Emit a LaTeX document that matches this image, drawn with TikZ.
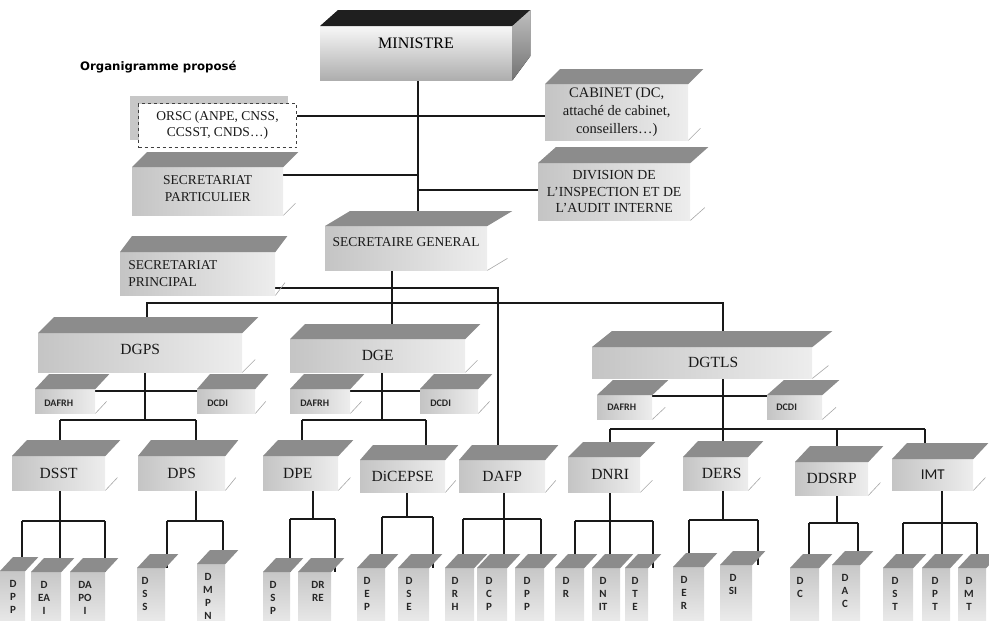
\documentclass[tikz,border=0pt]{standalone}
\usepackage{fontspec}
\setmainfont{Liberation Serif}
\newfontfamily\carl{Carlito}
\newfontfamily\dejab{DejaVu Sans}
\usetikzlibrary{backgrounds}
\tikzset{
  conn/.style={line width=2.2pt, draw=black!90},
  front/.style={inner sep=0pt, left color=black!23, right color=black!7},
  topf/.style={fill=black!45},
  accent/.style={draw=black!35, line width=0.6pt},
  leaff/.style={inner sep=0pt, top color=black!22, bottom color=black!4},
  leaft/.style={font=\carl\bfseries\fontsize{11}{13}\selectfont, align=center, inner sep=0pt, text=black!85},
  smallt/.style={font=\carl\bfseries\fontsize{10}{12}\selectfont, inner sep=0pt, anchor=west, text=black!85},
  serA/.style={font=\fontsize{13.5}{16.8}\selectfont, align=center, inner sep=0pt, text=black!90},
  serB/.style={font=\fontsize{15.5}{18}\selectfont, align=center, inner sep=0pt, text=black!90},
}
% name, x, y, w, h, dx, dy, text style, text
\newcommand{\tcube}[9]{%
  \node[front,minimum width=#4pt,minimum height=#5pt,anchor=north west] (#1) at (#2,#3) {};
  \fill[topf] (#1.north west) -- ++(#6,-#7) -- ([shift={(#6,-#7)}]#1.north east) -- (#1.north east) -- cycle;
  \draw[accent] (#1.south east) -- ++(#6*0.8,-#7*0.8);
  \node[#8] (#1-t) at (#1.center) {#9};
}
% name, x, y, w, dx, text x, text
\newcommand{\tleaf}[7]{%
  \node[leaff,minimum width=#4pt,minimum height=70pt,anchor=north west] (#1) at (#2,#3) {};
  \fill[topf] (#1.north west) -- ++(#5,-14) -- ([shift={(#5,-14)}]#1.north east) -- (#1.north east) -- cycle;
  \node[leaft,anchor=north,yshift=-9.5pt] (#1-t) at (#6,#3) {#7};
}
\begin{document}
\begin{tikzpicture}[x=1pt,y=-1pt]
\useasboundingbox (0,0) rectangle (989,621);
\clip (0,0) rectangle (989,621);

\node[font=\dejab\bfseries\fontsize{11.7}{14}\selectfont, anchor=west, inner sep=0pt] (title) at (80,67) {Organigramme proposé};

% MINISTRE
\node[inner sep=0pt, minimum width=192pt, minimum height=54pt, anchor=north west, top color=black!3, bottom color=black!32] (min) at (320,26) {};
\fill[black!88] (min.north west) -- ++(18,-16) -- ([shift={(18,-16)}]min.north east) -- (min.north east) -- cycle;
\fill[top color=black!25, bottom color=black!55] (min.north east) -- ++(18,-16) -- ++(0,46) -- (min.south east) -- cycle;
\node[font=\fontsize{16}{19}\selectfont, inner sep=0pt] (min-t) at (416,43) {MINISTRE};

% ORSC
\node[fill=black!22, minimum width=158pt, minimum height=44pt, anchor=north west, inner sep=0pt] (orsc-bg) at (130,96) {};
\node[draw=black!75, dashed, line width=1pt, fill=white, minimum width=158pt, minimum height=44pt, anchor=north west, inner sep=0pt] (orsc) at (138,103) {};
\node[serA, font=\fontsize{13.5}{15.5}\selectfont] (orsc-t) at (orsc.center) {ORSC (ANPE, CNSS,\\CCSST, CNDS…)};

\tcube{cab}{545}{84}{143}{56}{15}{15}{serA, font=\fontsize{14.5}{18}\selectfont}{CABINET (DC,\\attaché de cabinet,\\conseillers…)}
\tcube{div}{538}{163}{152}{57}{18}{16}{serA, font=\fontsize{13.8}{16.5}\selectfont}{DIVISION DE\\L’INSPECTION ET DE\\L’AUDIT INTERNE}
\tcube{sp}{132}{167}{151}{48}{15}{15}{serA, yshift=2.5pt}{SECRETARIAT\\PARTICULIER}
\tcube{sg}{325}{226}{162}{44}{25}{15}{serA, yshift=6pt}{SECRETAIRE GENERAL}
\tcube{spr}{120}{252}{155}{43}{12}{16}{serA, align=left, anchor=west, xshift=-69.5pt}{SECRETARIAT\\PRINCIPAL}

% level 1
\tcube{dgps}{38}{333}{204}{39}{16}{16}{serB, yshift=3pt}{DGPS}
\tcube{dge}{290}{339}{175}{33}{15}{15}{serB}{DGE}
\tcube{dgtls}{592}{347}{220}{31}{20}{16}{serB, xshift=11pt}{DGTLS}

\tcube{dafrhA}{35}{389}{60}{24}{14}{15}{smallt, xshift=-21pt, yshift=-2pt}{DAFRH}
\tcube{dcdiA}{197}{389}{58}{24}{13}{15}{smallt, xshift=-19pt, yshift=-2pt}{DCDI}
\tcube{dafrhB}{290}{389}{60}{24}{14}{15}{smallt, xshift=-20pt, yshift=-2pt}{DAFRH}
\tcube{dcdiB}{420}{389}{58}{24}{14}{15}{smallt, xshift=-19pt, yshift=-2pt}{DCDI}
\tcube{dafrhC}{597}{395}{55}{24}{16}{15}{smallt, xshift=-17.5pt}{DAFRH}
\tcube{dcdiC}{767}{395}{55}{24}{17}{15}{smallt, xshift=-18.5pt}{DCDI}

% level 2
\tcube{dsst}{12}{456}{93}{34}{15}{16}{serB}{DSST}
\tcube{dps}{138}{456}{87}{34}{13}{16}{serB}{DPS}
\tcube{dpe}{263}{456}{75}{34}{15}{16}{serB, xshift=-3pt}{DPE}
\tcube{dicepse}{360}{460}{85}{32}{13}{15}{serB}{DiCEPSE}
\tcube{dafp}{459}{460}{86}{32}{13}{15}{serB}{DAFP}
\tcube{dnri}{568}{457}{72}{35}{15}{15}{serB, xshift=6pt}{DNRI}
\tcube{ders}{683}{457}{65}{33}{15}{16}{serB, xshift=6pt}{DERS}
\tcube{ddsrp}{795}{462}{73}{33}{15}{16}{serB}{DDSRP}
\tcube{imt}{892}{459}{81}{31}{15}{16}{serB, font=\carl\fontsize{15}{18}\selectfont}{IMT}

% leaves
\tleaf{la}{0}{571}{25}{13}{13}{D\\P\\P}
\tleaf{lb}{31}{572}{30}{13}{44}{D\\EA\\I}
\tleaf{lc}{70}{572}{35}{13}{85}{DA\\PO\\I}
\tleaf{ld}{137}{568}{28}{13}{145}{D\\S\\S}
\tleaf{le}{197}{564}{28}{13}{208}{D\\M\\P\\N}
\tleaf{lf}{263}{572}{27}{13}{273}{D\\S\\P}
\tleaf{lg}{298}{572}{33}{13}{318}{DR\\RE}
\tleaf{lh}{357}{568}{28}{13}{367}{D\\E\\P}
\tleaf{li}{398}{568}{31}{13}{409}{D\\S\\E}
\tleaf{lj}{445}{568}{29}{13}{455}{D\\R\\H}
\tleaf{lk}{477}{568}{30}{13}{489}{D\\C\\P}
\tleaf{ll}{515}{568}{29}{13}{527}{D\\P\\P}
\tleaf{lm}{555}{568}{29}{13}{566}{D\\R}
\tleaf{ln}{592}{568}{28}{13}{603}{D\\N\\IT}
\tleaf{lo}{625}{568}{23}{13}{635}{D\\T\\E}
\tleaf{lp}{673}{567}{31}{13}{684}{D\\E\\R}
\tleaf{lq}{720}{565}{32}{13}{733}{D\\SI}
\tleaf{lr}{790}{568}{29}{13}{800}{D\\C}
\tleaf{ls}{832}{565}{28}{13}{845}{D\\A\\C}
\tleaf{lt}{883}{568}{30}{13}{895}{D\\S\\T}
\tleaf{lu}{922}{568}{28}{13}{935}{D\\P\\T}
\tleaf{lv}{958}{568}{28}{13}{969}{D\\M\\T}

\begin{scope}[on background layer]
% top level
\coordinate (jm1) at (418,116);
\coordinate (jm2) at (418,175);
\coordinate (jm3) at (418,190);
\draw[conn] (min.south -| jm1) -- (sg.north -| jm1);
\draw[conn] (orsc.east |- jm1) -- (cab.west |- jm1);
\draw[conn] (sp.east |- jm2) -- (jm2);
\draw[conn] (jm3) -- (div.west |- jm3);
\coordinate (jsg) at (392,303);
\draw[conn] (sg.south -| jsg) -- (dge.north -| jsg);
\coordinate (jbl) at (147,303);
\coordinate (jbr) at (723,303);
\draw[conn] (dgps.north -| jbl) -- (jbl) -- (jbr) -- (dgtls.north -| jbr);
\coordinate (jsp) at (498,288);
\draw[conn] (spr.east |- jsp) -- (jsp) -- (dafp.north -| jsp);

% DGPS
\coordinate (ga) at (145,391);
\coordinate (gl) at (60,420);
\coordinate (gr) at (196,420);
\draw[conn] (dgps.south -| ga) -- (gl -| ga);
\draw[conn] (dafrhA.east |- ga) -- (dcdiA.west |- ga);
\draw[conn] (gl) -- (gr);
\draw[conn] (gl) -- (dsst.north -| gl);
\draw[conn] (gr) -- (dps.north -| gr);
% DGE
\coordinate (ea) at (382,391);
\coordinate (el) at (302,420);
\coordinate (er) at (426,420);
\draw[conn] (dge.south -| ea) -- (el -| ea);
\draw[conn] (dafrhB.east |- ea) -- (dcdiB.west |- ea);
\draw[conn] (el) -- (er);
\draw[conn] (el) -- (dpe.north -| el);
\draw[conn] (er) -- (dicepse.north -| er);
% DGTLS
\coordinate (ta) at (723,396);
\coordinate (tl) at (610,429);
\coordinate (tm) at (837,429);
\coordinate (tr) at (925,429);
\draw[conn] (dgtls.south -| ta) -- (ders.north -| ta);
\draw[conn] (dafrhC.east |- ta) -- (dcdiC.west |- ta);
\draw[conn] (tl) -- (tr);
\draw[conn] (tl) -- (dnri.north -| tl);
\draw[conn] (tm) -- (ddsrp.north -| tm);
\draw[conn] (tr) -- (imt.north -| tr);

% DSST
\coordinate (a1) at (22,521); \coordinate (a2) at (60,521); \coordinate (a3) at (105,521);
\draw[conn] (dsst.south -| a2) -- (a2);
\draw[conn] (a1) -- (a3);
\draw[conn] (a1) -- (la.north -| a1);
\draw[conn] (a2) -- (lb.north -| a2);
\draw[conn] (a3) -- (lc.north -| a3);
% DPS
\coordinate (b0) at (196,521); \coordinate (b1) at (167,521); \coordinate (b2) at (223,521);
\draw[conn] (dps.south -| b0) -- (b0);
\draw[conn] (b1) -- (b2);
\draw[conn] (b1) -- (ld.north -| b1);
\draw[conn] (b2) -- (le.north -| b2);
% DPE
\coordinate (c0) at (313,519); \coordinate (c1) at (290,519); \coordinate (c2) at (335,519);
\draw[conn] (dpe.south -| c0) -- (c0);
\draw[conn] (c1) -- (c2);
\draw[conn] (c1) -- (lf.north -| c1);
\draw[conn] (c2) -- (lg.north -| c2);
% DiCEPSE
\coordinate (d0) at (407,517); \coordinate (d1) at (382,517); \coordinate (d2) at (433,517);
\draw[conn] (dicepse.south -| d0) -- (d0);
\draw[conn] (d1) -- (d2);
\draw[conn] (d1) -- (lh.north -| d1);
\draw[conn] (d2) -- (li.north -| d2);
% DAFP
\coordinate (e1) at (463,519); \coordinate (e2) at (504,519); \coordinate (e3) at (541,519);
\draw[conn] (dafp.south -| e2) -- (e2);
\draw[conn] (e1) -- (e3);
\draw[conn] (e1) -- (lj.north -| e1);
\draw[conn] (e2) -- (lk.north -| e2);
\draw[conn] (e3) -- (ll.north -| e3);
% DNRI
\coordinate (f1) at (575,521); \coordinate (f2) at (610,521); \coordinate (f3) at (653,521);
\draw[conn] (dnri.south -| f2) -- (f2);
\draw[conn] (f1) -- (f3);
\draw[conn] (f1) -- (lm.north -| f1);
\draw[conn] (f2) -- (ln.north -| f2);
\draw[conn] (f3) -- (lo.north -| f3);
% DERS
\coordinate (h0) at (723,520); \coordinate (h1) at (689,520); \coordinate (h2) at (758,520);
\draw[conn] (ders.south -| h0) -- (h0);
\draw[conn] (h1) -- (h2);
\draw[conn] (h1) -- (lp.north -| h1);
\draw[conn] (h2) -- (lq.north -| h2);
% DDSRP
\coordinate (i0) at (837,523); \coordinate (i1) at (809,523); \coordinate (i2) at (858,523);
\draw[conn] (ddsrp.south -| i0) -- (i0);
\draw[conn] (i1) -- (i2);
\draw[conn] (i1) -- (lr.north -| i1);
\draw[conn] (i2) -- (ls.north -| i2);
% IMT
\coordinate (k1) at (903,523); \coordinate (k2) at (942,523); \coordinate (k3) at (977,523);
\draw[conn] (imt.south -| k2) -- (k2);
\draw[conn] (k1) -- (k3);
\draw[conn] (k1) -- (lt.north -| k1);
\draw[conn] (k2) -- (lu.north -| k2);
\draw[conn] (k3) -- (lv.north -| k3);
\end{scope}
\end{tikzpicture}
\end{document}
